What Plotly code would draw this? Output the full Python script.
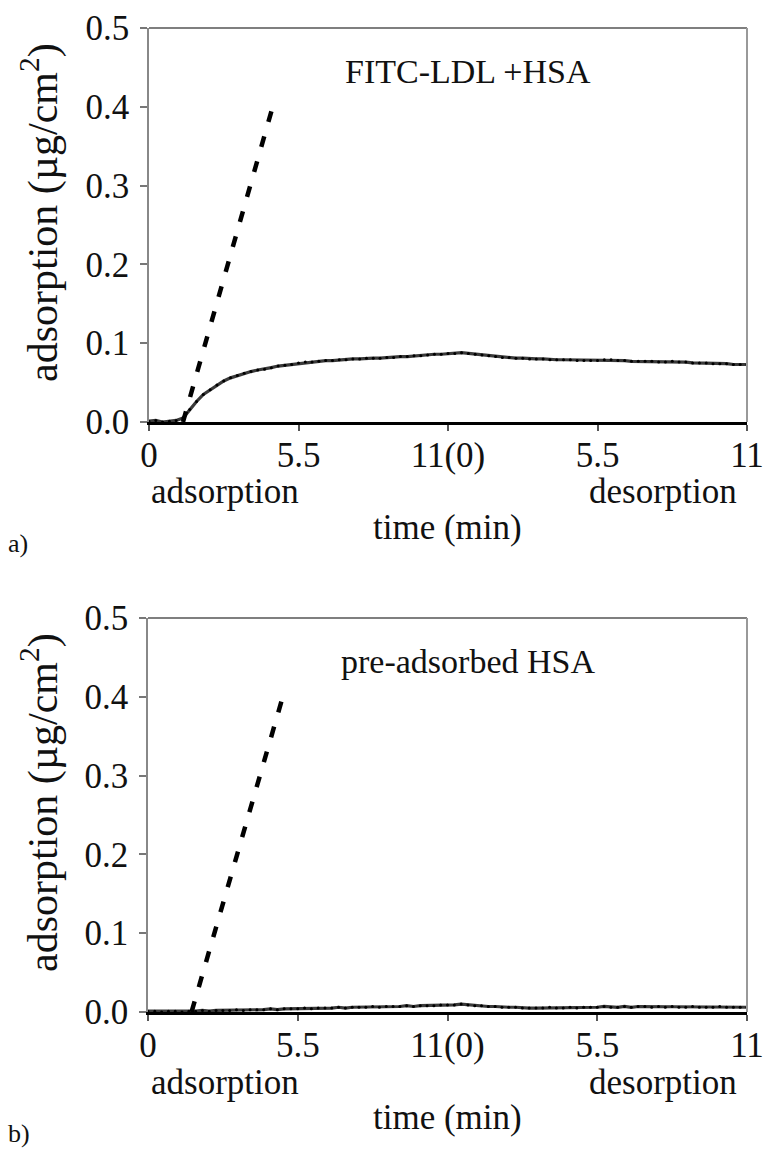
import plotly.graph_objects as go

W, H = 773, 1149

# ---------------- data ----------------
time_step = 0.25
time_min = [i * time_step for i in range(89)]  # 0 .. 22 min (adsorption 0-11, desorption 11-22)

ldl_hsa = [
    0.001, 0.002, 0.000, 0.001, 0.002, 0.005, 0.016, 0.026, 0.035, 0.041,
    0.047, 0.052, 0.056, 0.059, 0.062, 0.064, 0.066, 0.067, 0.069, 0.071,
    0.072, 0.073, 0.075, 0.076, 0.076, 0.077, 0.078, 0.078, 0.079, 0.079,
    0.080, 0.080, 0.081, 0.081, 0.081, 0.082, 0.082, 0.083, 0.083, 0.084,
    0.084, 0.085, 0.086, 0.086, 0.087, 0.087, 0.088, 0.087, 0.086, 0.085,
    0.084, 0.083, 0.082, 0.082, 0.081, 0.081, 0.080, 0.080, 0.080, 0.079,
    0.079, 0.079, 0.079, 0.078, 0.078, 0.078, 0.078, 0.079, 0.079, 0.078,
    0.078, 0.077, 0.077, 0.077, 0.077, 0.076, 0.076, 0.077, 0.076, 0.076,
    0.075, 0.075, 0.075, 0.074, 0.074, 0.074, 0.073, 0.073, 0.073,
]

pre_hsa = [
    0.001, 0.001, 0.000, 0.001, 0.001, 0.000, 0.001, 0.001, 0.002, 0.001,
    0.002, 0.002, 0.002, 0.003, 0.002, 0.003, 0.003, 0.003, 0.004, 0.003,
    0.004, 0.004, 0.004, 0.005, 0.004, 0.005, 0.005, 0.005, 0.006, 0.005,
    0.006, 0.006, 0.006, 0.007, 0.006, 0.007, 0.007, 0.007, 0.008, 0.007,
    0.008, 0.008, 0.008, 0.009, 0.009, 0.009, 0.010, 0.009, 0.008, 0.008,
    0.007, 0.007, 0.006, 0.006, 0.006, 0.005, 0.005, 0.005, 0.005, 0.006,
    0.005, 0.005, 0.006, 0.005, 0.006, 0.006, 0.006, 0.007, 0.006, 0.006,
    0.007, 0.006, 0.007, 0.007, 0.006, 0.007, 0.006, 0.007, 0.006, 0.006,
    0.007, 0.006, 0.006, 0.006, 0.007, 0.006, 0.006, 0.006, 0.006,
]

# dashed reference lines (start, end)
ref_a_time = [1.25, 4.55]
ref_a_val = [0.0, 0.40]
ref_b_time = [1.6, 4.95]
ref_b_val = [0.0, 0.40]

x_tickvals = [0, 5.5, 11, 16.5, 22]
x_ticktext = ["0", "5.5", "11(0)", "5.5", "11"]
y_tickvals = [0, 0.1, 0.2, 0.3, 0.4, 0.5]
y_ticktext = ["0.0", "0.1", "0.2", "0.3", "0.4", "0.5"]

panel_titles = ["FITC-LDL +HSA", "pre-adsorbed HSA"]

# ---------------- layout helpers ----------------
FONT = "Liberation Serif, Times New Roman, serif"
FS = 35
TXT = "#111"


def px(x):
    return x / W


def py(y):
    return 1 - y / H


# plot areas in pixels: (left, top, right, bottom)
areas = [(149, 28, 747, 422), (148, 618, 747, 1012)]

fig = go.Figure()

series = [(ldl_hsa, ref_a_time, ref_a_val), (pre_hsa, ref_b_time, ref_b_val)]
for i, (vals, rt, rv) in enumerate(series):
    xa = "x" if i == 0 else "x2"
    ya = "y" if i == 0 else "y2"
    fig.add_trace(go.Scatter(
        x=time_min, y=vals, mode="lines+markers", xaxis=xa, yaxis=ya,
        line=dict(color="#3a3a3a", width=3.2),
        marker=dict(color="#000", size=3),
        showlegend=False,
    ))
    fig.add_trace(go.Scatter(
        x=rt, y=rv, mode="lines", xaxis=xa, yaxis=ya,
        line=dict(color="#000", width=4.5, dash="11px,15px"),
        showlegend=False,
    ))

annotations = []
shapes = []
for i, (l, t, r, b) in enumerate(areas):
    sfx = "" if i == 0 else "2"
    xkey = "xaxis" + sfx
    ykey = "yaxis" + sfx
    fig.update_layout(**{
        xkey: dict(
            domain=[px(l), px(r)], range=[0, 22], anchor="y" + sfx,
            tickvals=x_tickvals, ticktext=x_ticktext,
            ticks="outside", ticklen=6, tickwidth=1.5, tickcolor="#555",
            showline=True, linecolor="#000", linewidth=2.5,
            showgrid=False, zeroline=False, automargin=False,
            tickfont=dict(family=FONT, size=FS, color=TXT),
            ticklabelstandoff=-6,
        ),
        ykey: dict(
            domain=[py(b), py(t)], range=[0, 0.5], anchor="x" + sfx,
            tickvals=y_tickvals, ticktext=y_ticktext,
            ticks="outside", ticklen=7, tickwidth=1.5, tickcolor="#777",
            showline=True, linecolor="#888", linewidth=1.5,
            showgrid=False, zeroline=False, automargin=False,
            tickfont=dict(family=FONT, size=FS, color=TXT),
            ticklabelstandoff=4,
        ),
    })
    xr = "x" + sfx + " domain"
    yr = "y" + sfx + " domain"
    shapes.append(dict(type="line", xref=xr, yref=yr, x0=0, x1=1, y0=1, y1=1,
                       line=dict(color="#555", width=1.5)))
    shapes.append(dict(type="line", xref=xr, yref=yr, x0=1, x1=1, y0=0, y1=1,
                       line=dict(color="#999", width=2)))

    dy = b - 422
    annotations += [
        dict(text="adsorption (µg/cm<sup>2</sup>)", x=px(40), y=py(213 + dy), textangle=-90,
             showarrow=False, xref="paper", yref="paper", xanchor="center", yanchor="middle",
             font=dict(family=FONT, size=42, color=TXT)),
        dict(text=panel_titles[i], x=px(468), y=py(71 + dy),
             showarrow=False, xref="paper", yref="paper", xanchor="center", yanchor="middle",
             font=dict(family=FONT, size=34, color=TXT)),
        dict(text="adsorption", x=px(225), y=py(492 + dy), showarrow=False,
             xref="paper", yref="paper", xanchor="center", yanchor="middle",
             font=dict(family=FONT, size=FS, color=TXT)),
        dict(text="desorption", x=px(663), y=py(492 + dy), showarrow=False,
             xref="paper", yref="paper", xanchor="center", yanchor="middle",
             font=dict(family=FONT, size=FS, color=TXT)),
        dict(text="time (min)", x=px(448), y=py(527 + dy), showarrow=False,
             xref="paper", yref="paper", xanchor="center", yanchor="middle",
             font=dict(family=FONT, size=FS, color=TXT)),
        dict(text="a)" if i == 0 else "b)", x=px(6), y=py(543 + dy), showarrow=False,
             xref="paper", yref="paper", xanchor="left", yanchor="middle",
             font=dict(family=FONT, size=26, color=TXT)),
    ]

fig.update_layout(
    width=W, height=H,
    margin=dict(l=0, r=0, t=0, b=0),
    paper_bgcolor="white", plot_bgcolor="white",
    annotations=annotations, shapes=shapes,
    showlegend=False,
)

fig.write_html("out.html")
